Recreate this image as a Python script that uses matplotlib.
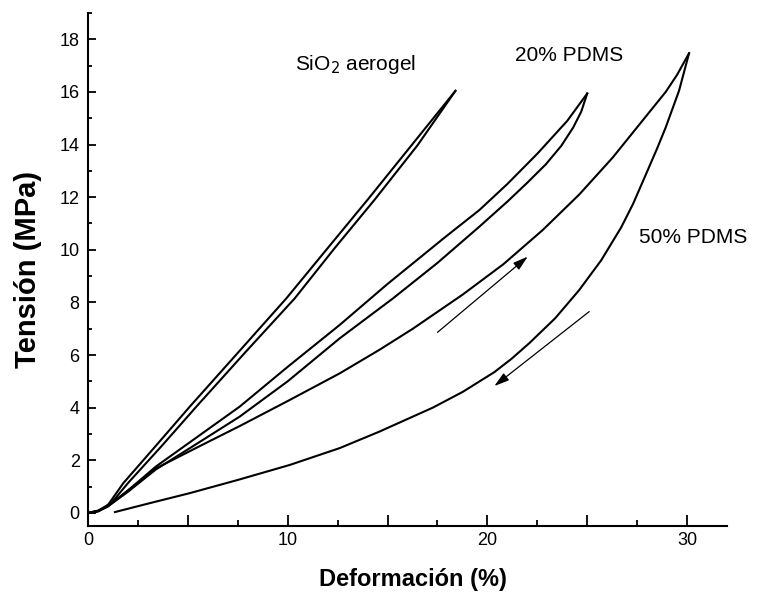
import matplotlib
matplotlib.use("Agg")
import matplotlib.pyplot as plt
from matplotlib.ticker import MultipleLocator, FuncFormatter

plt.rcParams['font.family'] = ['Liberation Sans', 'DejaVu Sans']

# SiO2 aerogel (loading / unloading)
sio2_load_x = [0, 0.5, 1.0, 1.77, 3.4, 5.1, 7.5, 9.93, 12.0, 14.0, 16.2, 18.4]
sio2_load_y = [0, 0.08, 0.3, 1.13, 2.55, 4.04, 6.08, 8.15, 10.06, 11.9, 13.97, 16.04]
sio2_unl_x = [18.4, 16.5, 14.35, 12.35, 10.35, 7.85, 5.43, 3.7, 2.0, 1.2, 0.6, 0.1]
sio2_unl_y = [16.04, 13.97, 11.9, 10.06, 8.15, 6.08, 4.04, 2.55, 1.13, 0.4, 0.1, 0.0]

# 20% PDMS
p20_load_x = [0, 0.5, 1.0, 2.0, 3.4, 5.5, 7.6, 10.0, 12.6, 15.0, 17.9, 19.6, 21.0, 22.5, 24.0, 25.0]
p20_load_y = [0, 0.07, 0.25, 0.85, 1.76, 2.9, 4.04, 5.55, 7.14, 8.7, 10.49, 11.51, 12.5, 13.65, 14.9, 15.94]
p20_unl_x = [25.0, 24.7, 24.3, 23.7, 22.93, 22.0, 21.0, 19.6, 17.5, 15.27, 12.6, 10.0, 7.6, 5.5, 3.4, 2.0, 1.0, 0.5, 0.2]
p20_unl_y = [15.94, 15.25, 14.65, 13.95, 13.25, 12.55, 11.83, 10.88, 9.5, 8.15, 6.63, 5.0, 3.66, 2.65, 1.65, 0.8, 0.25, 0.05, 0.0]

# 50% PDMS
p50_load_x = [0, 0.5, 1.0, 2.0, 3.43, 5.5, 7.6, 10.0, 12.6, 14.6, 16.27, 18.77, 20.8, 22.77, 24.6, 26.27, 27.6, 28.93, 29.5, 30.1]
p50_load_y = [0, 0.07, 0.25, 0.85, 1.70, 2.5, 3.3, 4.25, 5.3, 6.2, 7.0, 8.3, 9.45, 10.75, 12.1, 13.5, 14.75, 16.0, 16.65, 17.47]
p50_unl_x = [30.1, 29.6, 28.93, 28.5, 27.93, 27.3, 26.7, 25.7, 24.6, 23.4, 22.1, 21.2, 20.35, 18.77, 17.27,
             14.6, 12.6, 10.1, 7.5, 5.1, 3.0, 1.35]
p50_unl_y = [17.47, 16.05, 14.65, 13.85, 12.85, 11.75, 10.85, 9.6, 8.47, 7.4, 6.45, 5.85, 5.35, 4.6, 4.0,
             3.09, 2.46, 1.82, 1.25, 0.75, 0.35, 0.03]

# direction arrows (tail -> head)
arrow_up = [(17.5, 6.86), (22.02, 9.74)]
arrow_down = [(25.1, 7.65), (20.35, 4.82)]

fig = plt.figure(figsize=(7.59, 5.95), dpi=100)
ax = fig.add_axes([88/759, 1 - 526/595, (727 - 88)/759, (526 - 13)/595])

lw = 1.5
for xs, ys in [(sio2_load_x, sio2_load_y), (sio2_unl_x, sio2_unl_y),
               (p20_load_x, p20_load_y), (p20_unl_x, p20_unl_y),
               (p50_load_x, p50_load_y), (p50_unl_x, p50_unl_y)]:
    ax.plot(xs, ys, color='black', lw=lw, solid_joinstyle='round')

for tail, head in [arrow_up, arrow_down]:
    ax.annotate('', xy=head, xytext=tail,
                arrowprops=dict(arrowstyle='-|>,head_length=0.6,head_width=0.18',
                                color='black', lw=0.9, mutation_scale=15,
                                shrinkA=0, shrinkB=0))

ax.text(10.35, 16.82, 'SiO$_2$ aerogel', fontsize=15, ha='left', va='baseline')
ax.text(21.4, 17.17, '20% PDMS', fontsize=15, ha='left', va='baseline')
ax.text(27.6, 10.25, '50% PDMS', fontsize=15, ha='left', va='baseline', clip_on=False)

ax.set_xlim(0, 32)
ax.set_ylim(-0.5, 19)

ax.spines['top'].set_visible(False)
ax.spines['right'].set_visible(False)
for s in ['left', 'bottom']:
    ax.spines[s].set_linewidth(1.5)

ax.xaxis.set_major_locator(MultipleLocator(5))
ax.xaxis.set_minor_locator(MultipleLocator(2.5))
ax.xaxis.set_major_formatter(FuncFormatter(lambda v, p: '%d' % v if v % 10 == 0 else ''))
ax.yaxis.set_major_locator(MultipleLocator(2))
ax.yaxis.set_minor_locator(MultipleLocator(1))

ax.tick_params(axis='both', which='both', direction='in', width=1.3, labelsize=13)
ax.tick_params(axis='x', which='major', length=8, pad=4)
ax.tick_params(axis='x', which='minor', length=4)
ax.tick_params(axis='y', which='major', length=6, pad=6)
ax.tick_params(axis='y', which='minor', length=3)

ax.set_xlabel('Deformación (%)', fontsize=17, fontweight='bold')
ax.set_ylabel('Tensión (MPa)', fontsize=21, fontweight='bold')
ax.xaxis.set_label_coords(0.509, -0.082)
ax.yaxis.set_label_coords(-0.072, 0.5)

fig.savefig('out.png', dpi=100)
